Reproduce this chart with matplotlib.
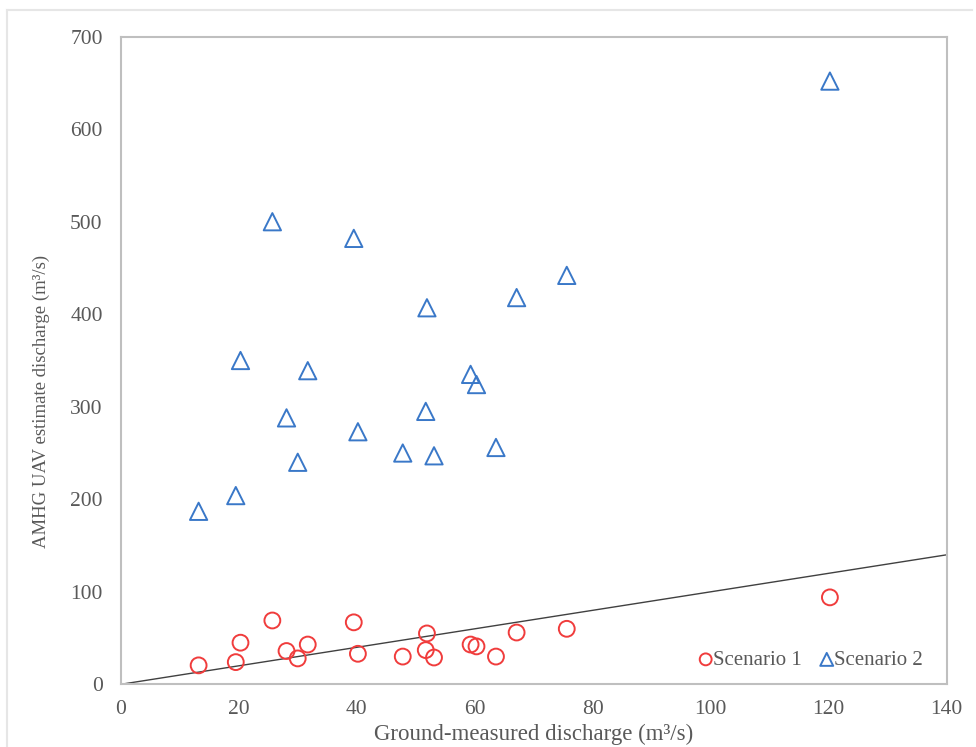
import numpy as np
import matplotlib.pyplot as plt
from matplotlib.lines import Line2D

# ground-measured discharge (m3/s), shared by both scenarios
ground_q = [13.2, 19.5, 20.3, 25.7, 28.1, 30.0, 31.7, 39.5, 40.2, 47.8,
            51.9, 51.7, 53.1, 59.3, 60.3, 63.6, 67.1, 75.6, 120.2]

# AMHG UAV estimates (m3/s)
scenario1_q = [20.5, 24, 45, 69, 36, 28, 43, 67, 33, 30,
               55, 37, 29, 43, 41, 30, 56, 60, 94]
scenario2_q = [187, 204, 350, 500, 288, 240, 339, 482, 273, 250,
               407, 295, 247, 335, 324, 256, 418, 442, 652]

one_to_one = [0, 140]

plt.rcParams["font.family"] = ["Liberation Serif", "DejaVu Serif"]
text_color = "#595959"
spine_color = "#BFBFBF"

fig = plt.figure(figsize=(9.76, 7.47), dpi=100)
ax = fig.add_axes([0.1237, 0.0839, 0.8463, 0.867])

ax.plot(one_to_one, one_to_one, color="#404040", lw=1.0, zorder=2)

ax.scatter(ground_q, scenario1_q, s=130, facecolors="none",
           edgecolors="#F03C3C", linewidths=1.4, label="Scenario 1", zorder=3)
ax.scatter(ground_q, scenario2_q, s=155, marker="^", facecolors="none",
           edgecolors="#3A78C8", linewidths=1.4, label="Scenario 2", zorder=3)

ax.set_xlim(0, 140)
ax.set_ylim(0, 700)
ax.set_xticks(np.arange(0, 141, 20))
ax.set_yticks(np.arange(0, 701, 100))
ax.tick_params(length=0, labelsize=15.5, colors=text_color)
ax.tick_params(axis="y", pad=13)
ax.tick_params(axis="x", pad=11)

for sp in ax.spines.values():
    sp.set_color(spine_color)
    sp.set_linewidth(1.5)

ax.set_xlabel("Ground-measured discharge (m³/s)", fontsize=16.5, color=text_color)
ax.xaxis.set_label_coords(0.5, -0.061)
ax.set_ylabel("AMHG UAV estimate discharge (m³/s)", fontsize=13.5, color=text_color)
ax.yaxis.set_label_coords(-0.086, 0.4375)

leg = ax.legend(loc="center right", bbox_to_anchor=(0.971, 0.0375), ncol=2,
                frameon=False, fontsize=15, markerscale=0.75, handlelength=0.6,
                handletextpad=0.05, columnspacing=0.9, borderpad=0, borderaxespad=0)
for t in leg.get_texts():
    t.set_color(text_color)

# light frame around the chart area
fig.add_artist(Line2D([7 / 976, 972 / 976], [1 - 10 / 747, 1 - 10 / 747],
                      color="#E6E6E6", lw=1.5, transform=fig.transFigure))
fig.add_artist(Line2D([7 / 976, 7 / 976], [1 - 10 / 747, 0],
                      color="#E6E6E6", lw=1.5, transform=fig.transFigure))

fig.savefig("out.png", dpi=100)
